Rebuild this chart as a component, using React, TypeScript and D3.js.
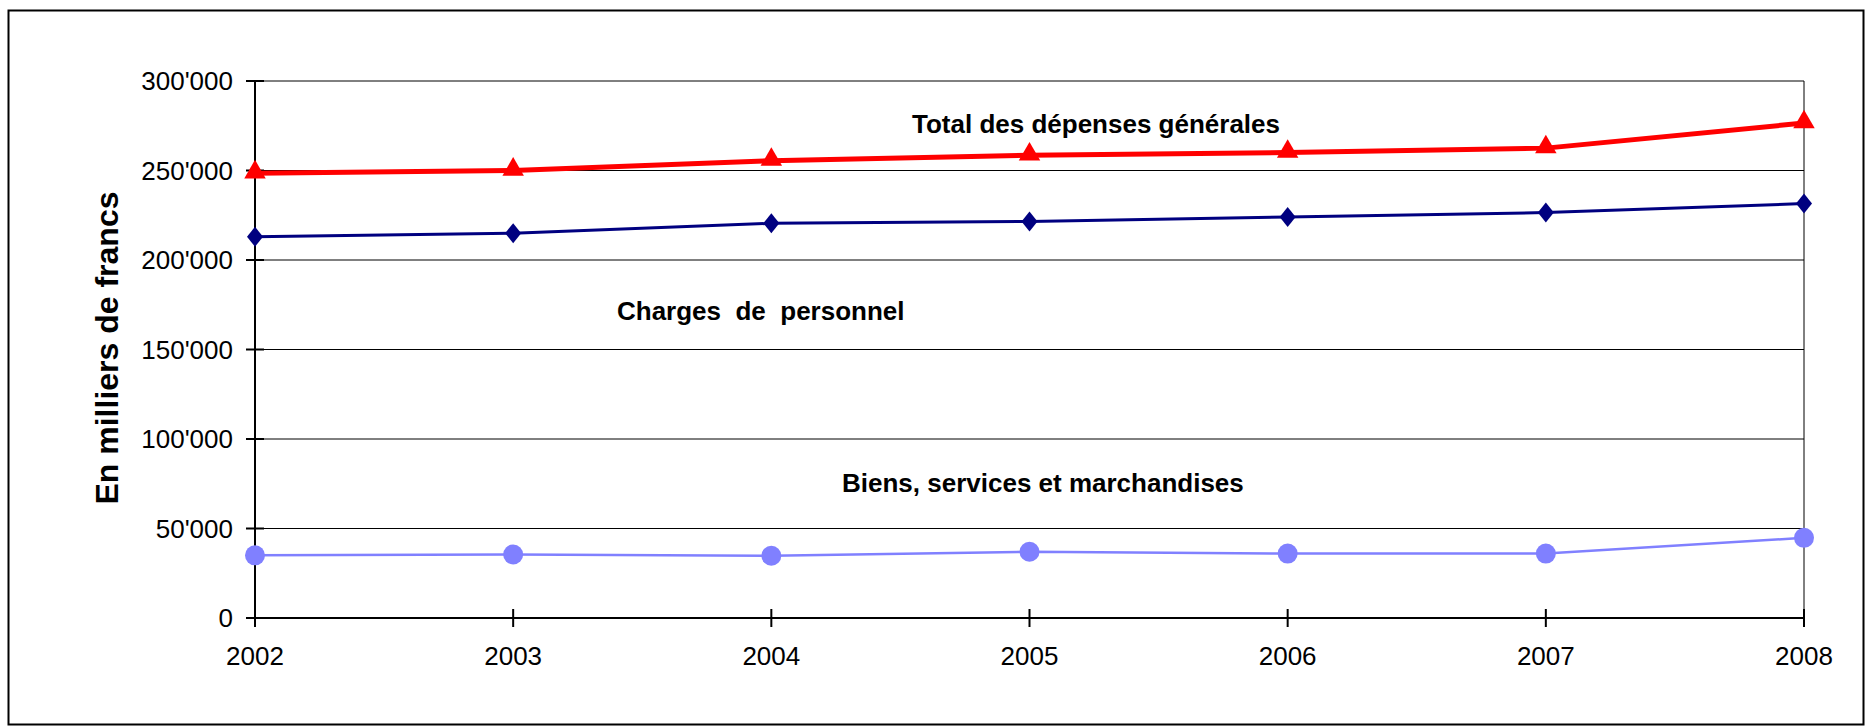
import React from "react";
import * as d3 from "d3";

const years = ["2002", "2003", "2004", "2005", "2006", "2007", "2008"];
const totalDepenses = [248500, 250000, 255500, 258500, 260000, 262500, 276500];
const chargesPersonnel = [213000, 215000, 220500, 221500, 224000, 226500, 231500];
const biensServices = [35000, 35500, 34800, 37000, 36000, 36000, 44800];
const yTicks = [0, 50000, 100000, 150000, 200000, 250000, 300000];

const W = 1865;
const H = 726;
const FONT = "'Liberation Sans', Arial, Helvetica, sans-serif";

const fmt = (v: number) => {
  if (v === 0) return "0";
  const s = String(v);
  return s.slice(0, s.length - 3) + "'" + s.slice(s.length - 3);
};

export default function App() {
  const x = d3.scalePoint<string>().domain(years).range([255, 1804]);
  const y = d3.scaleLinear().domain([0, 300000]).range([618, 81]);
  const line = d3
    .line<number>()
    .x((_, i) => x(years[i]) as number)
    .y((d) => y(d));

  const tri = d3.symbol().type(d3.symbolTriangle).size(200)();
  const diamondPath = (cx: number, cy: number) =>
    `M${cx},${cy - 10}L${cx + 8},${cy}L${cx},${cy + 10}L${cx - 8},${cy}Z`;

  return (
    <svg
      width={W}
      height={H}
      style={{ position: "absolute", left: 0, top: 0, background: "#fff" }}
      fontFamily={FONT}
    >
      <rect x={0} y={0} width={W} height={H} fill="#fff" />
      {/* outer frame */}
      <rect x={8.5} y={10.5} width={1855} height={714} fill="none" stroke="#000" strokeWidth={2} />

      {/* gridlines */}
      {yTicks.slice(1).map((t) => (
        <line key={"g" + t} x1={255} x2={1804} y1={y(t)} y2={y(t)} stroke="#000" strokeWidth={1} />
      ))}
      {/* right plot border */}
      <line x1={1804} x2={1804} y1={y(300000)} y2={y(0)} stroke="#000" strokeWidth={1} />

      {/* y axis */}
      <line x1={255} x2={255} y1={y(300000)} y2={y(0) + 9} stroke="#000" strokeWidth={2} />
      {yTicks.map((t) => (
        <g key={"yt" + t}>
          <line x1={246} x2={264} y1={y(t)} y2={y(t)} stroke="#000" strokeWidth={2} />
          <text x={233} y={y(t)} dy="0.35em" textAnchor="end" fontSize={26} fill="#000">
            {fmt(t)}
          </text>
        </g>
      ))}

      {/* x axis */}
      <line x1={255} x2={1804} y1={y(0)} y2={y(0)} stroke="#000" strokeWidth={2} />
      {years.map((yr) => (
        <g key={"xt" + yr}>
          <line x1={x(yr)} x2={x(yr)} y1={y(0) - 9} y2={y(0) + 9} stroke="#000" strokeWidth={2} />
          <text x={x(yr)} y={665} textAnchor="middle" fontSize={26} fill="#000">
            {yr}
          </text>
        </g>
      ))}

      {/* y axis title */}
      <text
        transform={`translate(118,348) rotate(-90)`}
        textAnchor="middle"
        fontSize={32}
        fontWeight="bold"
        fill="#000"
      >
        En milliers de francs
      </text>

      {/* Biens, services et marchandises */}
      <path d={line(biensServices) || ""} fill="none" stroke="#8080FF" strokeWidth={2.5} />
      {biensServices.map((v, i) => (
        <circle key={"b" + i} cx={x(years[i])} cy={y(v)} r={10} fill="#8080FF" />
      ))}

      {/* Charges de personnel */}
      <path d={line(chargesPersonnel) || ""} fill="none" stroke="#000080" strokeWidth={3} />
      {chargesPersonnel.map((v, i) => (
        <path key={"c" + i} d={diamondPath(x(years[i]) as number, y(v))} fill="#000080" />
      ))}

      {/* Total */}
      <path d={line(totalDepenses) || ""} fill="none" stroke="#FF0000" strokeWidth={5} />
      {totalDepenses.map((v, i) => (
        <path
          key={"t" + i}
          d={tri || ""}
          transform={`translate(${x(years[i])},${y(v) - 1})`}
          fill="#FF0000"
        />
      ))}

      {/* series labels */}
      <text x={912} y={133} fontSize={26} fontWeight="bold" fill="#000">
        Total des dépenses générales
      </text>
      <text x={617} y={320} fontSize={26} fontWeight="bold" fill="#000" style={{ whiteSpace: "pre" }}>
        {"Charges  de  personnel"}
      </text>
      <text x={842} y={492} fontSize={26} fontWeight="bold" fill="#000">
        Biens, services et marchandises
      </text>
    </svg>
  );
}
